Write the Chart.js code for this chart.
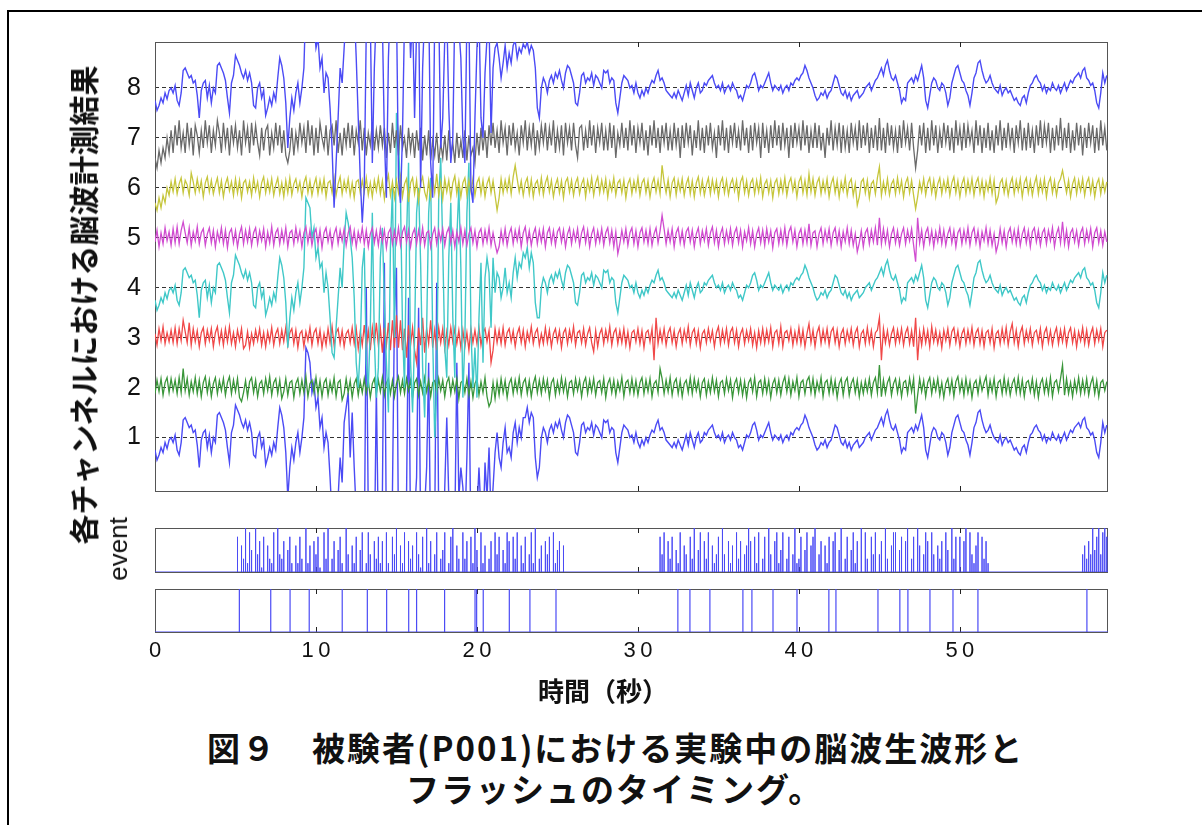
<!DOCTYPE html>
<html lang="ja">
<head>
<meta charset="utf-8">
<script src="https://cdn.jsdelivr.net/npm/chart.js@4.4.1/dist/chart.umd.min.js"></script>
<style>
  html, body { margin: 0; padding: 0; background: #fff; }
  body { position: relative; width: 1202px; height: 825px; overflow: hidden; }
  .frame { position: absolute; left: 7px; top: 10px; width: 1300px; height: 900px;
           border-left: 2px solid #000; border-top: 2px solid #000; }
  .box { position: absolute; left: 0; }
  .txt { position: absolute; white-space: nowrap; color: #111; }
  #ytitle { left: 82px; top: 305px; transform: translate(-50%, -50%) rotate(-90deg);
            font: bold 30px "Noto Sans CJK JP", sans-serif; line-height: 30px; }
  #evtitle { left: 118px; top: 549px; transform: translate(-50%, -50%) rotate(-90deg);
             font: 26px "Liberation Sans", Arial, sans-serif; line-height: 26px; }
  #xtitle { left: 603px; top: 690px; transform: translate(-50%, -50%);
            font: bold 26px "Noto Sans CJK JP", sans-serif; line-height: 26px; }
  .cap { font: bold 33px "Noto Sans CJK JP", sans-serif; line-height: 33px; letter-spacing: 2px; }
</style>
</head>
<body>
<div class="frame"></div>
<div class="box" style="top:0px"><canvas id="eeg" width="1202" height="520"></canvas></div>
<div class="box" style="top:520px"><canvas id="evt" width="1202" height="60"></canvas></div>
<div class="box" style="top:580px"><canvas id="flash" width="1202" height="110"></canvas></div>
<div class="txt" id="ytitle">各チャンネルにおける脳波計測結果</div>
<div class="txt" id="evtitle">event</div>
<div class="txt" id="xtitle">時間（秒）</div>
<div class="txt cap" style="left:207px; top:731px">図９　被験者(P001)における実験中の脳波生波形と</div>
<div class="txt cap" style="left:406px; top:772px">フラッシュのタイミング。</div>
<script>
const X_MAX = 59.2;
const xTicks = [0, 10, 20, 30, 40, 50];
const yTicks = [1, 2, 3, 4, 5, 6, 7, 8];

// every trace is sampled at 0.125 s; values are hundredths of a unit
const DT = 0.125;

// slow waveform shared by ch1 / ch4 / ch8 (as read from ch4 during the burst)
const wave = [
  -25,-45,-35,-20,-30,-10,-22,-5, 0,-10,5,-25,-35,-10,35,40,
  30,20,25,10,15,-15,-60,-5, 10,15,-20,5,-30,0,-10,45,
  50,40,30,15,-20,-50,10,25, 65,55,45,30,20,35,15,30,
  10,-35,-40,0,10,-20,-5,-55, -40,-20,-35,-10,-25,20,60,45,
  20,-30,-120,-60,-20,-45,-10,10, -30,0,40,180,170,160,100,120,
  60,80,40,50,-10,30,0,-60, -130,-140,-80,-20,40,0,90,150,
  130,100,60,-20,-150,-200,-120,40, 80,-150,-200,-80,150,-100,-220,-160,
  60,120,-30,-150,-250,80,200,-100, 350,300,180,-80,-200,100,250,-150,
  -250,-100,150,200,50,-160,-260,-80, 150,220,-100,-300,-200,180,260,80,
  -120,-180,60,170,-60,-180,100,200, 40,-220,-100,150,250,-80,-200,-120,
  -220,-60,50,-150,20,60,30,-80, 60,-10,30,20,-20,0,40,-10,
  10,-20,30,60,20,50,40,70, 60,80,40,70,50,-30,-60,-60,
  0,20,10,-10,15,25,10,30, 20,35,15,0,30,45,40,25,
  10,-30,-35,-10,25,30,10,20, 15,30,5,25,20,10,0,35,
  30,35,10,20,15,-30,-50,-20, 10,25,20,15,0,5,-10,10,
  -10,-20,-5,-15,0,-10,5,15, 10,25,35,15,20,10,-5,-10,
  -15,-20,-10,-20,-5,-15,-25,-10, 5,-15,10,-5,-20,0,10,-10,
  -5,10,5,15,20,25,10,0, 5,-5,10,-10,0,5,-5,10,
  0,-5,-20,-15,-25,-10,5,0, 10,25,30,15,-5,5,0,10,
  20,30,10,-5,5,0,-5,5, -10,0,5,-5,10,5,15,20,
  15,25,30,45,35,20,10,0, -15,-25,-20,-10,-15,-5,-20,-10,
  -5,10,25,20,5,-10,-15,-5, -20,-10,-25,-15,-10,-5,-20,-15,
  -10,0,5,10,-5,5,15,20, 30,40,25,45,55,35,20,15,
  25,10,-5,-30,-20,-25,10,15, 20,10,25,15,30,45,20,-25,
  -40,-15,10,20,15,0,-5,10, 5,-10,-35,-20,10,25,40,45,
  30,15,10,-5,-15,-35,-10,20, 30,50,55,35,20,10,15,25,
  10,0,-5,-10,5,-15,-5,0, -10,-5,-15,-25,-20,-30,-35,-20,
  -15,-30,-10,5,10,20,25,15, 10,-5,5,-10,0,-5,10,0,
  -5,5,-10,0,10,-5,5,15, 10,20,25,30,20,35,40,20,
  15,5,10,-5,-30,-40,-10,30, 10,25
];

// ch8 and ch1 differ from the shared waveform only during the burst (9.25 s to 24 s)
const BURST_AT = 74;
const burst8 = [
  40,180,170,190,100,130,
  80,100,40,60,-10,30,20,-40, -120,-240,-150,-60,40,10,80,150,
  180,150,190,160,60,-60,-180,-270, -200,120,160,140,-150,40,150,100,
  200,130,-100,-220,60,180,150,200, 160,-180,-230,-90,140,170,200,60,
  150,-60,120,170,-200,40,150,200, 180,-150,-220,140,190,160,-120,-60,
  100,150,-40,-150,-100,160,180,120, 60,-100,-150,140,150,-200,-230,-60,
  80,150,-60,-100,30,100,130,-90, 40,80,90,60,20,50,85,40,
  70,50,85,95,60,80,70,88, 80,92,70,85,75,40,-40,-60
];
const burst1 = [
  40,180,170,150,90,110,
  60,80,20,40,-20,10,-10,-80, -160,-240,-200,-120,-40,-90,30,60,
  90,-40,50,-60,-150,-220,-260,-200, -240,300,-160,-220,-150,-250,100,-200,
  -230,-120,350,-220,-260,-240,-110,250, 340,-200,-250,-260,-140,-120,280,-200,
  -240,-150,-80,260,-190,-230,-140,-60, 150,-240,-260,-180,310,-160,-220,-250,
  -100,40,-120,-200,-150,-180,150,-120, -60,-100,-180,-40,150,-220,-250,-120,
  -150,-60,-150,-200,-50,-120,-20,-160, -100,-30,10,-40,-60,-10,20,-30,
  -20,-40,10,30,-10,20,0,40, 40,60,30,50,40,-40,-80,-60
];

const ch7 = [
  -40,-60,-25,-50,-20,-40,0,-30, 15,-30,25,-15,35,-20,10,-30, 30,-15,20,-35,25,5,-30,15, -20,35,-10,25,-30,15,-15,35,
  10,-30,30,-15,20,-35,25,-10, 25,-20,15,-35,35,-10,20,-30, 30,-15,25,-10,-35,20,-25,15, 25,-35,10,-20,30,-15,25,-30,
  15,-35,-50,-25,20,-35,10,-20, 30,-10,20,-30,35,-15,25,-35, 20,-30,30,0,-20,25,-35,15, 25,-15,35,-30,10,-35,20,-15,
  30,-20,25,-35,15,-10,35,-25, 20,-35,10,-15,30,-25,15,-20, 25,-15,20,-40,10,-30,30,-20, 15,-35,25,-20,0,-40,20,-25,
  10,-40,15,-25,20,-45,5,-35, 15,-45,-5,-35,10,-50,-10,-40, 5,-45,15,-35,-10,-50,10,-40, -5,-40,15,-45,5,-35,-20,-50,
  10,-35,20,-25,15,-40,25,-15, 30,-20,15,-30,35,-10,20,-35, 25,-15,30,-20,10,-35,25,-10, 35,-25,20,-15,30,-35,15,-20,
  25,-10,30,-25,20,-15,35,-30, 15,-20,25,-35,30,-10,20,-25, 30,-15,-40,20,25,-25,15,-20, 35,-15,25,-30,20,-10,30,-25,
  15,-25,30,-20,25,-40,10,-15, 30,-20,20,-25,35,-15,25,-30, 20,-10,30,-25,15,-35,25,-15, 35,-20,20,-30,25,-10,30,-25,
  15,-25,30,-15,20,-40,25,-20, 30,-10,25,-35,15,-20,35,-25, 20,-30,25,-15,30,-20,10,-40, 25,-15,35,-25,20,-30,25,-10,
  30,-20,15,-25,35,-15,20,-30, 25,-25,30,-10,20,-40,30,-20, 15,-30,25,-20,35,-15,25,-25, 30,-15,20,-40,25,-20,30,-10,
  20,-25,35,-15,25,-30,15,-20, 30,-20,25,-25,10,-40,20,-15, 35,-25,20,-15,30,-30,25,-20, 15,-30,30,-10,20,-25,35,-20,
  25,-15,30,-30,20,-20,25,-25, 40,-25,20,-30,30,-15,25,-20, 15,-30,25,-20,35,-10,20,-25, 30,-20,-60,-25,25,-15,30,-30,
  20,-25,35,-15,25,-30,15,-20, 30,-10,25,-25,20,-30,35,-15, 20,-25,30,-20,25,-10,15,-30, 35,-15,25,-30,20,-20,30,-25,
  15,-30,25,-15,35,-25,20,-20, 30,-15,20,-30,25,-10,35,-25, 20,-25,30,-20,15,-30,25,-15, 35,-20,25,-10,30,-30,20,-25,
  25,-15,40,-25,20,-20,30,-30, 15,-25,30,-15,25,-35,20,-20, 30,-10,25,-30,20,-25,35,-15, 20,-25
];
const ch6 = [
  -30,-45,-20,-40,-15,-30,0,-15, 12,-8,18,-12,8,20,-10,15, 6,-15,30,12,-10,18,-6,14, -18,10,22,-8,15,-12,6,20,
  -10,14,-18,8,20,-6,12,-15, 18,-10,15,-20,10,16,-8,12, -15,20,-6,12,-18,10,22,-10, 14,-8,18,-15,6,20,-12,10,
  -18,15,-10,20,-14,8,18,-6, 12,-18,10,22,-10,14,-15,6, 20,-12,15,-8,18,-18,10,14, -10,20,-15,8,22,-12,14,-6,
  18,-15,10,-20,12,16,-10,15, -8,20,-14,10,-18,15,-6,20, -12,14,-22,10,26,-15,12,-20, 15,-10,22,-18,8,18,-28,10,
  20,-12,15,-26,10,22,-8,-22, 14,-18,20,-10,28,-15,12,-22, 18,-8,15,-20,10,24,-12,14, -18,10,20,-14,15,-8,18,-15,
  10,20,-12,15,-18,8,20,-10, 14,-15,-45,-20,18,-10,15,-6, 20,-12,22,45,18,-8,14,-15, 10,20,-12,16,-18,8,15,-10,
  20,-14,10,22,-8,15,-18,6, 18,-10,14,-20,12,20,-8,15, -15,10,20,-12,8,18,-18,14, -6,20,-15,10,22,-10,15,-8,
  18,-18,12,-6,20,-14,10,16, -10,15,-20,8,18,-12,14,-6, 20,-15,10,18,-10,14,-18,8, 20,-8,15,-12,45,12,-10,16,
  -18,10,20,-14,15,-6,18,-15, 8,20,-12,14,-18,10,22,-10, 15,-15,6,20,-12,16,-8,14, -18,10,20,-10,15,-14,8,18,
  -6,15,-20,12,22,-10,14,-15, 10,18,-12,15,-8,20,-18,8, 16,-10,14,-20,10,18,-12,15, -8,20,-15,10,20,-6,14,-18,
  12,22,-10,15,-14,28,-8,18, -15,10,20,-12,14,-8,18,-18, 8,20,-10,15,-18,12,-6,20, -14,10,18,-15,8,-35,-18,12,
  18,-10,15,-20,8,14,-12,20, 42,-15,12,-10,18,-14,8,16, -12,20,-8,14,-18,10,20,-10, 15,-15,-42,-18,12,-8,18,-14,
  10,20,-10,15,-18,8,20,-12, 14,-6,18,-15,10,22,-10,14, -18,8,20,-12,15,-8,18,-15, 10,20,-10,14,-18,12,-6,20,
  -12,15,-30,-18,10,18,-10,14, -15,8,20,-12,15,-6,18,-18, 10,20,-10,14,-15,8,22,-12, 15,-8,18,-18,10,20,-10,14,
  -15,10,18,35,12,-10,15,-18, 8,20,-12,15,-6,18,-15,10, 20,-10,14,-18,8,18,-12,15, -8,12
];
const ch5 = [
  -8,15,-18,10,-12,20,-6,12, -15,18,-10,22,-12,15,32,10, -10,20,-15,12,-6,22,-12,10, 18,-15,8,20,-10,15,-18,12,
  -6,20,-12,15,-20,10,18,-10, 14,-18,8,22,-12,15,-8,18, -15,10,20,-12,14,-6,18,-18, 12,-10,22,-15,10,18,-12,15,
  -8,20,-18,10,15,-12,20,-6, 14,-18,10,22,-10,15,-15,8, 18,-12,15,-20,10,20,-8,14, -18,8,20,-12,15,-6,18,-15,
  10,22,-10,14,-18,12,-6,20, -12,15,-18,8,20,-10,14,-15, 18,-8,15,-20,10,18,-12,14, -10,20,-15,12,22,-8,15,-18,
  8,18,-12,15,-10,20,-15,10, 14,-18,8,20,-12,15,-6,18, -15,10,20,-10,14,-18,12,-8, 20,-12,15,-15,8,20,-10,14,
  -18,10,18,-12,15,-8,20,-15, 10,-12,-30,-18,14,-10,18,-15, 8,20,-12,15,-6,18,-18,10, 22,-10,14,-15,8,20,-12,15,
  -8,18,-18,10,20,-10,14,-15, 12,20,-8,15,-18,8,20,-12, 14,-6,18,-15,10,22,-10,15, -18,8,20,-12,14,-8,18,-15,
  10,20,-10,15,-18,12,-32,-12, 15,-8,18,-15,10,20,-12,14, -18,10,20,-8,15,-12,18,-15, 8,20,-10,14,45,18,-12,15,
  -8,18,-18,10,20,-10,14,-15, 12,20,-8,15,-18,8,20,-12, 14,-6,18,-15,10,22,-10,15, -18,8,20,-12,14,-8,18,-15,
  10,20,-10,15,-18,12,-6,20, -12,14,-18,8,20,-10,15,-15, 18,-8,14,-20,10,18,-12,15, -10,20,-15,12,22,-8,15,-18,
  8,18,-12,15,-10,28,-15,10, 14,-18,8,20,-12,15,-6,18, -15,10,20,-10,14,-18,12,-8, 20,-12,15,-15,8,-28,-10,14,
  -18,10,18,-12,15,-8,20,-15, 40,-12,18,-10,15,-18,8,20, -10,14,-15,8,20,-12,15,-6, 18,-15,-48,40,-10,15,-18,10,
  20,-10,14,-18,12,-8,20,-12, 15,-15,8,20,-10,14,-18,10, 18,-12,15,-8,20,-15,10,20, -10,14,-18,12,-6,20,-12,15,
  -15,8,-28,-12,18,-10,14,-18, 10,20,-8,15,-12,18,-15,8, 20,-10,14,-18,12,20,-8,15, -15,10,18,-12,15,-6,20,-18,
  8,20,-10,32,-12,15,-18,10, 18,-8,14,-15,10,20,-12,15, -6,18,-18,10,20,-10,14,-15, 12,-8
];
const ch3 = [
  8,-15,18,-6,22,-12,10,-8, 15,-10,20,-12,18,-6,35,12, -10,30,-15,18,-8,14,-18,10, 20,-12,15,-6,18,-18,10,22,
  -10,14,-15,18,-8,22,-12,10, -18,15,-6,18,-22,-15,12,-20, 8,-12,15,-6,18,-15,10,-18, 12,-8,20,-15,8,18,-12,15,
  -8,20,-15,10,18,-12,15,-20, 8,14,-18,12,-6,20,-15,10, 18,-12,15,-20,8,-15,18,-10, 22,-15,10,18,-12,14,-18,8,
  15,-10,20,-12,18,-22,12,-15, 25,-18,14,-25,20,-12,30,-15, 18,-30,20,-15,30,-25,35,-20, 45,-20,35,-25,18,-40,25,-15,
  20,-25,-50,20,-15,40,-30,18, -12,35,-20,15,-25,20,-10,18, -22,12,-15,20,-8,18,-12,15, -20,15,-18,10,-25,18,-10,15,
  -12,20,-15,10,18,-8,14,-50, -25,18,-10,15,-12,20,-15,10, 18,-8,14,-18,8,20,-10,15, -18,12,-6,22,-12,10,18,-15,
  8,-12,20,-10,15,-18,8,18, -8,14,-20,10,18,-12,15,-6, 22,-15,10,14,-10,18,-15,8, 20,-10,-28,14,-18,8,18,-12,
  15,-6,22,-15,10,18,-12,14, -10,18,-15,12,-20,10,15,-8, 18,-12,14,-20,10,15,-8,18, -45,40,-12,15,-8,18,-15,10,
  20,-10,14,-18,8,18,-12,15, -6,22,-15,10,18,-12,14,-20, 8,15,-10,18,-6,14,-18,10, 22,-12,15,-8,18,-15,12,20,
  -10,15,-18,8,18,-12,14,-6, 18,-15,10,-20,14,-10,18,-12, 15,-8,20,-18,10,15,-12,22, -18,10,14,-6,18,-15,12,-10,
  20,-12,15,-18,8,28,-10,15, -18,10,22,-12,15,-8,18,-15, 12,20,-10,15,-18,8,18,-12, 14,-6,18,-15,10,20,-18,8,
  15,-12,20,-10,14,-18,10,15, 40,-45,18,-10,14,-15,8,20, -12,15,-8,18,-15,10,20,-12, 14,-18,40,-45,12,-15,18,-10,
  14,-18,22,-8,15,-12,10,-20, 15,-6,18,-15,12,20,-10,14, -18,8,18,-12,15,-8,20,-15, 10,18,-12,14,-18,10,15,-10,
  18,-20,8,14,-12,18,-8,20, -15,12,28,-10,15,-18,10,22, -12,14,-6,18,-15,10,15,-8, 18,-18,10,20,-10,14,-15,8,
  20,-12,15,-8,18,-15,10,20, -10,14,-18,12,-6,20,-12,15, -15,8,20,-12,15,-6,18,-18, 10,15
];
const ch2 = [
  -12,15,-8,18,-15,10,20,-10, 18,-6,15,-12,20,-10,38,-6, 18,-15,12,-8,20,-12,15,-18, 10,22,-10,15,-18,8,20,-12,
  14,-6,18,-15,10,22,-12,15, -8,18,-20,-28,-10,14,-18,12, 20,-10,15,-18,8,14,-12,18, -6,22,-15,10,18,-12,15,-22,
  -8,18,-15,10,14,-20,8,18, -12,15,-10,22,-18,8,15,-10, 20,-12,14,-18,10,18,-15,12, -8,20,-18,10,15,-25,-12,18,
  -10,14,-20,8,18,-15,12,-10, 18,-10,14,-20,8,18,-12,15, -8,20,-15,10,18,-12,14,-18, 8,22,-10,15,-12,18,-6,15,
  -20,10,18,-15,12,-10,20,-8, 15,-18,10,14,-12,18,-6,15, -18,10,20,-12,15,-8,18,-22, 10,14,-10,18,-15,12,-20,8,
  18,-15,12,-10,20,-18,-38,-28, 10,-22,12,-15,18,-10,14,-20, 8,18,-12,15,-8,20,-15,10, 18,-12,14,-18,8,22,-10,15,
  -12,18,-6,15,-20,10,18,-15, 12,-10,20,-8,15,-18,10,14, -12,18,-6,15,-18,10,20,-12, 15,-8,18,-15,10,14,-10,18,
  -20,8,18,-10,15,-15,12,-6, 20,-18,10,15,-10,18,-12,14, -15,10,20,-12,15,-8,18,-18, 8,14,-10,38,18,-12,15,-8,
  20,-15,10,18,-12,14,-18,8, 15,-10,20,-12,18,-6,14,-18, 10,18,-15,12,-10,20,-8,15, -18,10,14,-12,18,-6,15,-20,
  8,18,-10,15,-15,12,-20,10, 18,-8,20,-18,10,15,-12,18, -10,14,-20,8,18,-10,15,-15, 10,22,-8,18,-15,12,-6,20,
  -18,10,15,-12,14,22,-10,18, -15,12,-6,20,-18,10,15,-12, 18,-10,14,-20,8,18,-15,12, 20,-15,8,18,-10,15,-18,10,
  -12,14,-8,18,-15,10,20,-10, 45,-18,15,-12,10,20,-15,8, 18,-10,15,-18,10,14,-12,18, -8,18,-52,-15,18,-8,14,-18,
  10,20,-12,15,-6,18,-15,10, -20,8,18,-10,15,-18,12,22, -8,14,-15,18,-10,12,-20,8, 15,-12,18,-6,10,22,-15,14,
  -8,18,-18,10,15,-12,20,-10, 14,-15,8,18,-10,20,-12,15, -18,10,14,-8,18,-15,12,-20, 8,18,-10,15,-12,20,-18,10,
  15,-8,18,45,-15,18,-12,10, -18,14,-8,20,-12,15,-10,18, -15,8,20,-12,14,-18,10,15, -6,12
];

// event trace heights (tenths)
const evtHeights = [
  0,0,0,0,0,0,0,0, 0,0,0,0,0,0,0,0, 0,0,0,0,0,0,0,0, 0,0,0,0,0,0,0,0, 0,0,0,0,0,0,0,0,
  0,8,0,6,3,10,2,9, 5,0,10,4,7,1,8,0, 6,3,2,9,0,10,4,3, 7,0,5,8,2,0,6,2,
  8,3,0,10,2,6,0,7, 4,8,1,0,9,3,10,0, 3,7,0,5,8,2,0,10, 4,0,6,2,8,0,5,9,
  0,2,9,4,0,7,3,8, 2,7,0,9,2,0,8,4, 10,0,6,2,9,0,7,3, 6,0,9,4,1,8,0,10,
  2,7,0,4,9,0,3,5, 9,0,2,8,10,0,6,3, 0,9,3,7,0,8,2,10, 5,0,9,2,6,0,3,7,
  0,9,4,8,0,5,2,9, 7,0,8,3,9,0,6,2, 8,0,4,9,2,10,0,3, 6,0,7,4,8,0,9,2,
  5,7,0,6,0,0,0,0,
  0,0,0,0,0,0,0,0, 0,0,0,0,0,0,0,0, 0,0,0,0,0,0,0,0, 0,0,0,0,0,0,0,0, 0,0,0,0,0,0,0,0,
  0,0,0,8,4,9,0,7,
  3,8,0,5,2,9,0,6, 4,0,8,3,10,0,5,9, 0,7,3,9,0,6,2,4, 8,0,10,4,0,7,2,6,
  0,9,3,7,0,4,6,10, 7,0,8,2,9,0,3,8, 0,10,4,0,7,9,2,5, 9,0,3,8,0,4,10,2,
  3,8,0,5,9,0,6,8, 10,0,4,7,0,6,2,8, 0,7,9,0,5,10,0,3, 8,0,5,9,2,7,0,10,
  0,9,3,0,8,4,9,0, 4,7,0,10,3,0,6,9, 9,0,5,8,0,7,10,0, 3,8,0,10,6,0,4,9,
  7,0,9,4,0,6,3,7, 0,9,5,0,10,3,8,0, 8,0,7,10,0,9,4,2,
  6,9,0,8,3,7,2,0,
  0,0,0,0,0,0,0,0, 0,0,0,0,0,0,0,0, 0,0,0,0,0,0,0,0, 0,0,0,0,0,0,0,0, 0,0,0,0,0,0,0,0,
  0,0,0,0,0,4,6,3, 7,4,10,5,8,10,4,9, 10,8
];

// flash timings (s)
const flashTimes = [
  5.24, 7.19, 8.39, 9.58, 11.63, 13.19, 14.39, 15.76, 16.25, 17.99, 19.88, 19.98,
  20.39, 22.01, 23.29, 24.91, 32.48, 33.23, 34.47, 36.52, 37.08, 38.39, 39.88,
  41.86, 42.30, 44.91, 46.27, 46.77, 48.14, 49.57, 51.12, 57.89
];

function withBurst(burst) {
  return wave.slice(0, BURST_AT).concat(burst, wave.slice(BURST_AT + burst.length));
}

const BLUE = '#4b4bf5';
const channels = [
  { values: withBurst(burst8), base: 8, color: BLUE, width: 1.4 },
  { values: ch7, base: 7, color: '#6a6a6a', width: 1.3 },
  { values: ch6, base: 6, color: '#c6c63c', width: 1.3 },
  { values: ch5, base: 5, color: '#d04cd0', width: 1.3 },
  { values: wave, base: 4, color: '#40c8c8', width: 1.4 },
  { values: ch3, base: 3, color: '#f04848', width: 1.3 },
  { values: ch2, base: 2, color: '#3a963a', width: 1.3 },
  { values: withBurst(burst1), base: 1, color: BLUE, width: 1.4 },
];

function trace(values, base) {
  return values.map((v, i) => ({ x: i * DT, y: base + v / 100 }));
}

function stems(times, heights) {
  const pts = [{ x: 0, y: 0 }];
  times.forEach((t, i) => {
    pts.push({ x: t, y: 0 }, { x: t, y: heights[i] }, { x: t, y: 0 });
  });
  pts.push({ x: X_MAX, y: 0 });
  return pts;
}

// grey frame round the plot area, with small inward ticks on the x axis
const frameBox = {
  id: 'frameBox',
  beforeDatasetsDraw(chart) {
    const { ctx, chartArea: a, scales } = chart;
    ctx.save();
    ctx.strokeStyle = '#555';
    ctx.lineWidth = 1;
    ctx.strokeRect(a.left + 0.5, a.top + 0.5, a.right - a.left - 1, a.bottom - a.top);
    ctx.strokeStyle = '#222';
    ctx.beginPath();
    xTicks.slice(1).forEach((v) => {
      const px = Math.round(scales.x.getPixelForValue(v)) + 0.5;
      ctx.moveTo(px, a.top); ctx.lineTo(px, a.top + 5);
      ctx.moveTo(px, a.bottom); ctx.lineTo(px, a.bottom - 5);
    });
    ctx.stroke();
    ctx.restore();
  },
};

const common = {
  responsive: false,
  animation: false,
  events: [],
  plugins: { legend: { display: false }, tooltip: { enabled: false } },
  elements: { point: { radius: 0 }, line: { tension: 0 } },
};

new Chart(document.getElementById('eeg'), {
  type: 'line',
  data: {
    datasets: channels.map((c) => ({
      data: trace(c.values, c.base),
      borderColor: c.color,
      borderWidth: c.width,
    })),
  },
  options: {
    ...common,
    layout: { padding: { left: 115, right: 94, top: 42, bottom: 10 } },
    scales: {
      x: { type: 'linear', min: 0, max: X_MAX, display: false },
      y: {
        min: -0.07,
        max: 8.92,
        afterBuildTicks: (s) => { s.ticks = yTicks.map((v) => ({ value: v })); },
        afterFit: (s) => { s.width = 40; },
        ticks: { color: '#111', padding: 14, font: { family: '"Liberation Sans", Arial, sans-serif', size: 25 } },
        grid: { color: '#333', lineWidth: 1, drawTicks: false },
        border: { display: false, dash: [4, 3] },
      },
    },
  },
  plugins: [frameBox],
});

const evtTimes = [];
const evtValues = [];
evtHeights.forEach((h, i) => {
  if (h > 0) { evtTimes.push(i * DT); evtValues.push(h / 10); }
});

new Chart(document.getElementById('evt'), {
  type: 'line',
  data: { datasets: [{ data: stems(evtTimes, evtValues), borderColor: BLUE, borderWidth: 1 }] },
  options: {
    ...common,
    layout: { padding: { left: 155, right: 94, top: 8, bottom: 8 } },
    scales: {
      x: { type: 'linear', min: 0, max: X_MAX, display: false },
      y: { min: 0, max: 1, display: false },
    },
  },
  plugins: [frameBox],
});

new Chart(document.getElementById('flash'), {
  type: 'line',
  data: { datasets: [{ data: stems(flashTimes, flashTimes.map(() => 1)), borderColor: BLUE, borderWidth: 1.2 }] },
  options: {
    ...common,
    layout: { padding: { left: 155, right: 94, top: 9, bottom: 28 } },
    scales: {
      x: {
        type: 'linear',
        min: 0,
        max: X_MAX,
        afterBuildTicks: (s) => { s.ticks = xTicks.map((v) => ({ value: v })); },
        afterFit: (s) => { s.height = 30; },
        ticks: {
          color: '#111',
          padding: 6,
          maxRotation: 0,
          font: { family: '"Liberation Sans", Arial, sans-serif', size: 22 },
          callback: (v) => String(v).split('').join('\u2009'),
        },
        grid: { display: false, drawTicks: false },
        border: { display: false },
      },
      y: { min: 0, max: 1, display: false },
    },
  },
  plugins: [frameBox],
});
</script>
</body>
</html>
